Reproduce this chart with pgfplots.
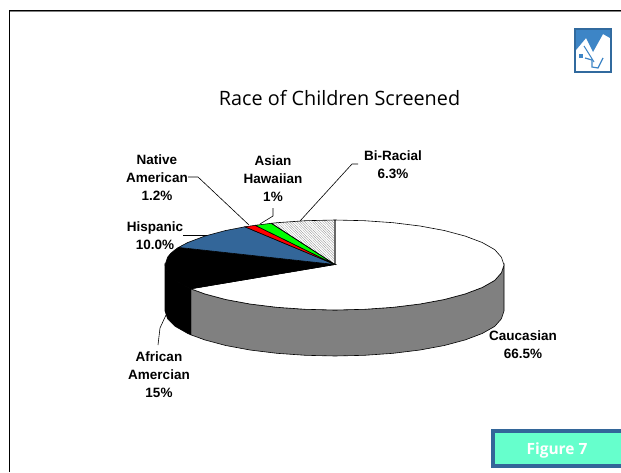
\documentclass[border=0pt]{standalone}
\usepackage{fontspec}
\setmainfont{Liberation Sans}
\newfontfamily\titlefont{Open Sans}
\usepackage{pgfplots}
\pgfplotsset{compat=1.18}
\usetikzlibrary{patterns.meta}
\definecolor{pieblue}{HTML}{336699}
\definecolor{badge}{HTML}{66FFCC}
\definecolor{sidegrey}{HTML}{808080}
\definecolor{logoblue}{HTML}{3D85C6}
\newcommand{\lab}{\fontsize{13.5}{18}\selectfont\bfseries}
\begin{document}
\begin{tikzpicture}[x=1pt,y=1pt]
\begin{axis}[
  width=621pt,height=472pt,scale only axis,
  xmin=0,xmax=621,ymin=0,ymax=472,y dir=reverse,
  hide axis,clip=false,axis on top=false]
% frame
\addplot[draw=gray,line width=0.8pt] coordinates {(10,11.5)(621,11.5)};
\addplot[draw=black,line width=1pt] coordinates {(9.5,472)(9.5,10)(621,10)};
% caucasian side
\addplot[fill=sidegrey,draw=black,line width=0.6pt] coordinates {
(504,265)(501.4,272.8)(494.7,280.4)(482.2,287.5)(465.2,293.9)(444.3,299.5)(420,304)(393.1,307.3)(364.5,309.3)(335,310)(305.5,309.3)(276.9,307.3)(250,304)(225.7,299.5)(204.8,293.9)(190.8,288.8)
(190.8,334.8)(204.8,339.9)(225.7,345.5)(250,350)(276.9,353.3)(305.5,355.3)(335,356)(364.5,355.3)(393.1,353.3)(420,350)(444.3,345.5)(465.2,339.9)(482.2,333.5)(494.7,326.4)(501.4,318.8)(504,311)} --cycle;
% african american side
\addplot[fill=black,draw=black,line width=0.6pt] coordinates {
(190.8,288.8)(187.8,287.5)(175.3,280.4)(167.6,272.8)(165,265)(165,311)(167.6,318.8)(175.3,326.4)(187.8,333.5)(190.8,334.8)} --cycle;
% caucasian top
\addplot[fill=white,draw=black,line width=0.6pt] coordinates {
(335,264.5)(335,220)(364.5,220.7)(393.1,222.7)(420,226)(444.3,230.5)(465.2,236.1)(482.2,242.5)(494.7,249.6)(501.4,257.2)(504,265)(501.4,272.8)(494.7,280.4)(482.2,287.5)(465.2,293.9)(444.3,299.5)(420,304)(393.1,307.3)(364.5,309.3)(335,310)(305.5,309.3)(276.9,307.3)(250,304)(225.7,299.5)(204.8,293.9)(190.8,288.8)} --cycle;
% african american top
\addplot[fill=black,draw=black,line width=0.6pt] coordinates {
(335,264.5)(190.8,288.8)(187.8,287.5)(175.3,280.4)(167.6,272.8)(165,265)(167.6,257.2)(170.8,253.3)(175.3,249.6)(178.5,247.4)} --cycle;
% hispanic
\addplot[fill=pieblue,draw=black,line width=0.6pt] coordinates {
(335,264.5)(178.5,247.4)(187.8,242.5)(204.8,236.1)(225.7,230.5)(244.9,226.8)} --cycle;
% native american
\addplot[fill=red,draw=black,line width=0.6pt] coordinates {
(335,264.5)(244.9,226.8)(255.2,225.3)} --cycle;
% asian hawaiian
\addplot[fill=green,draw=black,line width=0.6pt] coordinates {
(335,264.5)(255.2,225.3)(271.3,223.3)} --cycle;
% bi-racial
\addplot[pattern={Lines[angle=-45,distance=1.8pt,line width=0.3pt]},pattern color=black!45,draw=black,line width=0.6pt] coordinates {
(335,264.5)(271.3,223.3)(276.9,222.7)(305.5,220.7)(335,220)} --cycle;
% leaders
\addplot[draw=black,line width=0.6pt] coordinates {(188,177)(198,177)(249,225)};
\addplot[draw=black,line width=0.6pt] coordinates {(273,208)(273,216)(260,224)};
\addplot[draw=black,line width=0.6pt] coordinates {(358,164)(352,164)(300,221)};
\addplot[draw=black,line width=0.6pt] coordinates {(183,235)(207,235)};
\addplot[draw=black,line width=0.6pt] coordinates {(158,345)(160,328)(166,315)};
% labels
\node[align=center,font=\lab] at (axis cs:157,178) {Native\\American\\1.2\%};
\node[align=center,font=\lab] at (axis cs:273,179) {Asian\\Hawaiian\\1\%};
\node[align=center,font=\lab] at (axis cs:393,165) {Bi-Racial\\6.3\%};
\node[align=center,font=\lab] at (axis cs:155,236) {Hispanic\\10.0\%};
\node[align=center,font=\lab] at (axis cs:159,375) {African\\Amercian\\15\%};
\node[align=center,font=\lab] at (axis cs:523,345) {Caucasian\\66.5\%};
\node[font=\titlefont\fontsize{19.8}{22}\selectfont] at (axis cs:339.5,98) {Race of Children Screened};
% badge
\addplot[fill=badge,draw=pieblue,line width=3.5pt] coordinates {(493,431)(625,431)(625,466)(493,466)} --cycle;
\node[font=\titlefont\bfseries\fontsize{15.5}{18}\selectfont,text=white] at (axis cs:557,450) {Figure 7};
% logo
\addplot[fill=white,draw=logoblue!80!black,line width=1.2pt] coordinates {(575,29)(611,29)(611,72)(575,72)} --cycle;
\addplot[fill=logoblue,draw=none] coordinates {(576,30)(610,30)(610,38)(603,34)(593,52)(586,38)(576,50)} --cycle;
\addplot[draw=logoblue,line width=1pt] coordinates {(584,46)(594,62)};
\addplot[fill=logoblue,draw=none] coordinates {(579,54)(583,54)(583,58)(579,58)} --cycle;
\addplot[draw=logoblue,line width=1.2pt] coordinates {(585,58)(592,60)(592,67)(598,68)(603,58)};
\end{axis}
\pgfresetboundingbox
\path[use as bounding box] (0,0) rectangle (621pt,472pt);
\end{tikzpicture}
\end{document}
